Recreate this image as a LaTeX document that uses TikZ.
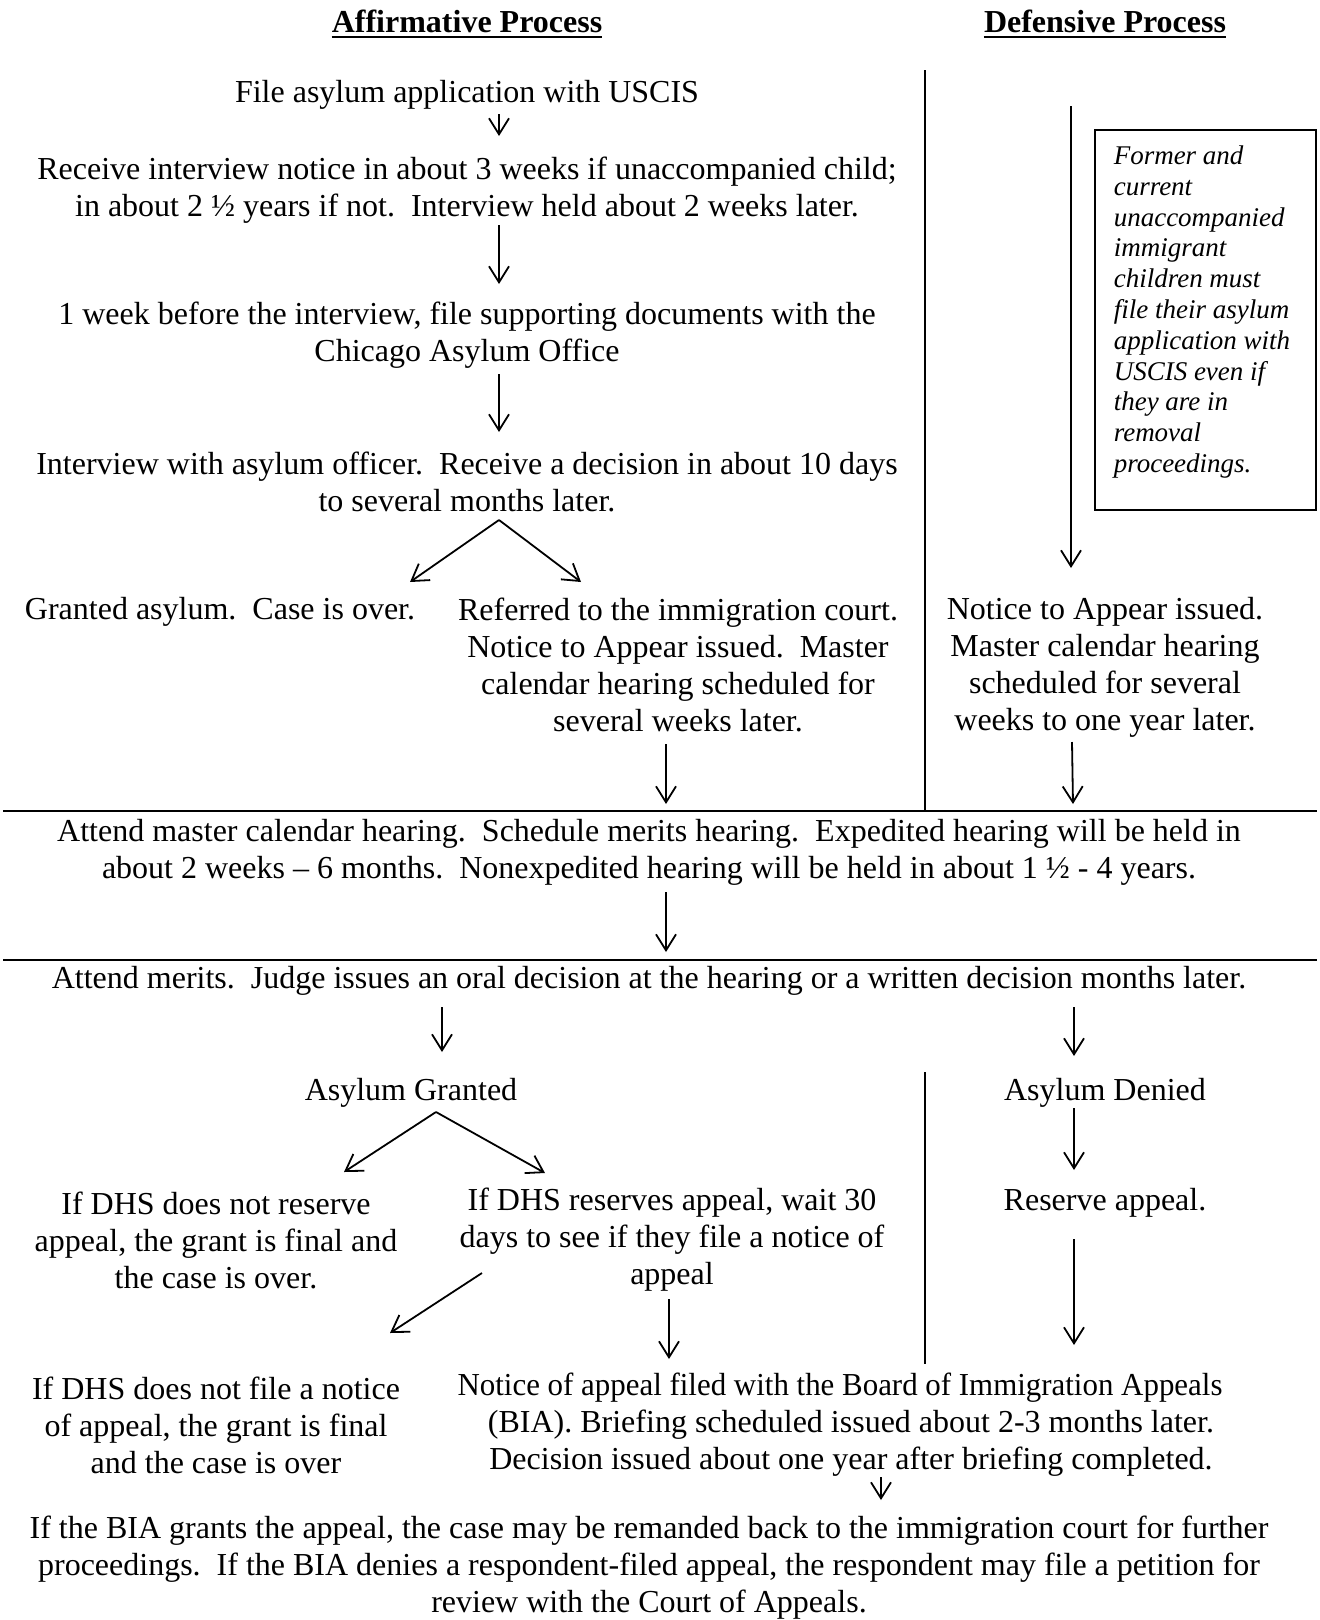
\documentclass[tikz,border=0pt]{standalone}
\usepackage{fontspec}
\usepackage{graphicx}
\setmainfont{Liberation Serif}
\usetikzlibrary{arrows.meta}
\frenchspacing
\newcommand\twosp{\ \ }

\tikzstyle{stage} = [align=center, inner sep=0pt, font=\fontsize{32}{37}\selectfont]
\tikzstyle{heading} = [inner sep=0pt, font=\fontsize{32}{37}\selectfont\bfseries]
\tikzstyle{note} = [draw, line width=1.5pt, inner xsep=19pt, inner ysep=16pt, font=\fontsize{27}{30.8}\selectfont\itshape]
\tikzstyle{flow} = [draw, line width=1.8pt, -{Straight Barb[length=16pt,width=20pt]}]
\tikzstyle{divider} = [draw, line width=1.2pt]
\tikzstyle{band} = [draw, line width=2.2pt]

% arrow end points, in pixels from the top left corner
\def\ends{499/114/a1, 499/136/b1, 499/225/a2, 499/284/b2, 499/374/a3, 499/432/b3,
  499/520/a4, 410/582/b4, 581/582/b5, 1071/106/a6, 1071/568/b6,
  666/744/a7, 666/804/b7, 1072/742/a8, 1073/804/b8, 666/892/a9, 666/952/b9,
  442/1007/a10, 442/1052/b10, 1074/1007/a11, 1074/1056/b11,
  436/1112/a12, 344/1172/b12, 545/1173/b13, 1074/1108/a14, 1074/1170/b14,
  482/1273/a15, 390/1333/b15, 669/1299/a16, 669/1359/b16,
  1074/1239/a17, 1074/1345/b17, 881/1477/a18, 881/1500/b18}
\def\flows{a1/b1, a2/b2, a3/b3, a4/b4, a4/b5, a6/b6, a7/b7, a8/b8, a9/b9, a10/b10, a11/b11,
  a12/b12, a12/b13, a14/b14, a15/b15, a16/b16, a17/b17, a18/b18}

\begin{document}
\begin{tikzpicture}[x=1pt, y=-1pt]

    \useasboundingbox (0,0) rectangle (1320,1620);

    % The two headings
    \node[heading] (affirm) at (467,21) {Affirmative Process};
    \node[heading] (defend) at (1105,21) {Defensive Process};
    \foreach \name in {affirm, defend}
      \path[draw, line width=2.7pt] ([yshift=-5pt]\name.base west) -- ([yshift=-5pt]\name.base east);

    % Affirmative steps
    \node[stage] (file) at (467,95) {File asylum application with USCIS};
    \node[stage] (receive) at (467,190) {Receive interview notice in about 3 weeks if unaccompanied child;\\
      in about 2 ½ years if not.\twosp Interview held about 2 weeks later.};
    \node[stage] (week) at (467,335) {1 week before the interview, file supporting documents with the\\
      Chicago Asylum Office};
    \node[stage] (interview) at (467,482) {Interview with asylum officer.\twosp Receive a decision in about 10 days\\
      to several months later.};
    \node[stage] (granted) at (220,612) {Granted asylum.\twosp Case is over.};
    \node[stage] (referred) at (678,665) {Referred to the immigration court.\\
      Notice to Appear issued.\twosp Master\\ calendar hearing scheduled for\\ several weeks later.};

    % Defensive steps
    \node[note, anchor=north west] (children) at (1094,129) {\parbox[t][348pt][t]{183pt}{\raggedright
      Former and\\ current\\ unaccompanied\\ immigrant\\ children must\\ file their asylum\\
      application with\\ USCIS even if\\ they are in\\ removal\\ proceedings.}};
    \node[stage] (issued) at (1105,667) {Notice to Appear issued.\\ Master calendar hearing\\
      scheduled for several\\ weeks to one year later.};

    % Court steps
    \node[stage] (master) at (649,852) {Attend master calendar hearing.\twosp Schedule merits hearing.\twosp Expedited hearing will be held in\\
      about 2 weeks – 6 months.\twosp Nonexpedited hearing will be held in about 1 ½ - 4 years.};
    \node[stage] (merits) at (649,981) {Attend merits.\twosp Judge issues an oral decision at the hearing or a written decision months later.};
    \node[stage] (agranted) at (411,1093) {Asylum Granted};
    \node[stage] (adenied) at (1105,1093) {Asylum Denied};
    \node[stage] (noreserve) at (216,1240) {If DHS does not reserve\\ appeal, the grant is final and\\ the case is over.};
    \node[stage] (reserves) at (672,1240) {If DHS reserves appeal, wait 30\\ days to see if they file a notice of\\ appeal};
    \node[stage] (reserve) at (1105,1203) {Reserve appeal.};
    \node[stage] (nofile) at (216,1425) {If DHS does not file a notice\\ of appeal, the grant is final\\ and the case is over};
    \node[stage] (bia) at (851,1425) {\scalebox{0.966}[1]{Notice of appeal filed with the Board of Immigration Appeals}\hspace*{22pt}\\
      (BIA). Briefing scheduled issued about 2-3 months later.\\ Decision issued about one year after briefing completed.};
    \node[stage] (remand) at (649,1568) {If the BIA grants the appeal, the case may be remanded back to the immigration court for further\\
      proceedings.\twosp If the BIA denies a respondent-filed appeal, the respondent may file a petition for\\
      review with the Court of Appeals.};

    % Dividing lines
    \foreach \x/\y/\name in {925/70/d1, 925/811/d2, 925/1072/d3, 925/1364/d4,
        3/811/h1, 1317/811/h2, 3/960/h3, 1317/960/h4}
      \coordinate (\name) at (\x,\y);
    \path[divider] (d1) -- (d2);
    \path[divider] (d3) -- (d4);
    \path[band] (h1) -- (h2);
    \path[band] (h3) -- (h4);

    % The arrows
    \foreach \x/\y/\name in \ends
      \coordinate (\name) at (\x,\y);
    \foreach \source/\sink in \flows
      \path[flow] (\source) -- (\sink);

\end{tikzpicture}
\end{document}
